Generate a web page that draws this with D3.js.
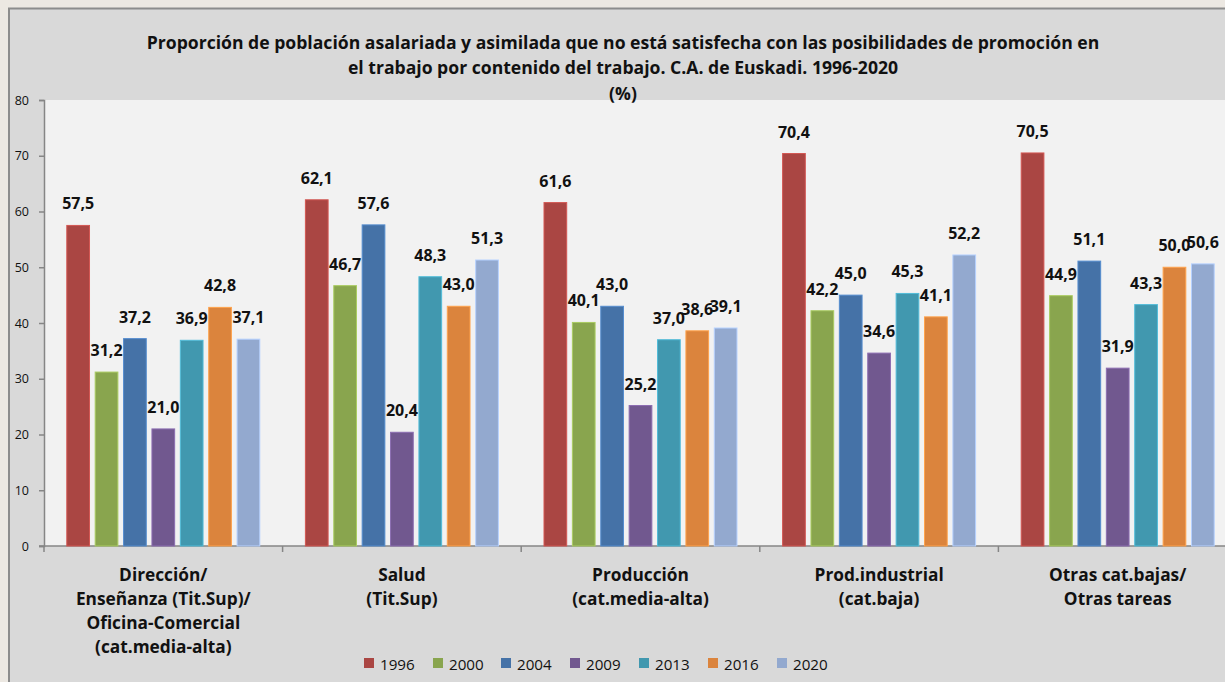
<!DOCTYPE html>
<html><head><meta charset="utf-8">
<script src="https://cdn.jsdelivr.net/npm/d3@7"></script>
<style>
body{margin:0;padding:0;background:#ece8e2;}
svg{display:block;font-family:"Open Sans", sans-serif;}
</style></head>
<body>
<svg id="chart" width="1225" height="682"></svg>
<script>
const categories = [
  ["Dirección/","Enseñanza (Tit.Sup)/","Oficina-Comercial","(cat.media-alta)"],
  ["Salud","(Tit.Sup)"],
  ["Producción","(cat.media-alta)"],
  ["Prod.industrial","(cat.baja)"],
  ["Otras cat.bajas/","Otras tareas"]
];
const years = ["1996","2000","2004","2009","2013","2016","2020"];
const values1996 = [57.5, 62.1, 61.6, 70.4, 70.5];
const values2000 = [31.2, 46.7, 40.1, 42.2, 44.9];
const values2004 = [37.2, 57.6, 43.0, 45.0, 51.1];
const values2009 = [21.0, 20.4, 25.2, 34.6, 31.9];
const values2013 = [36.9, 48.3, 37.0, 45.3, 43.3];
const values2016 = [42.8, 43.0, 38.6, 41.1, 50.0];
const values2020 = [37.1, 51.3, 39.1, 52.2, 50.6];
const yTicks = [0,10,20,30,40,50,60,70,80];
const titleLines = [
  "Proporción de población asalariada y asimilada que no está satisfecha con las posibilidades de promoción en",
  "el trabajo por contenido del trabajo. C.A. de Euskadi. 1996-2020",
  "(%)"
];
const colors = ["#AA4643","#89A54E","#4572A7","#71588F","#4198AF","#DB843D","#93A9CF"];
const series = [values1996,values2000,values2004,values2009,values2013,values2016,values2020];

const svg = d3.select("#chart");
// chart area
svg.append("rect").attr("x",9).attr("y",8.5).attr("width",1230).attr("height",690)
  .attr("fill","#d9d9d9").attr("stroke","#8c8c8c").attr("stroke-width",2);

const pLeft = 44, pRight = 1237, pTop = 100, pBottom = 546;
svg.append("rect").attr("x",pLeft).attr("y",pTop).attr("width",pRight-pLeft).attr("height",pBottom-pTop).attr("fill","#f2f2f2");

const x0 = d3.scaleBand().domain(d3.range(categories.length)).range([pLeft,pRight]).paddingInner(0).paddingOuter(0);
const x1 = d3.scaleBand().domain(years).range([0,193]).paddingInner(0.2);
const y = d3.scaleLinear().domain([0,80]).range([pBottom,pTop]);
const groupOffset = (x0.bandwidth()-193)/2;

// title
svg.append("g").selectAll("text").data(titleLines).join("text")
  .attr("x",623).attr("y",(d,i)=>48.5+i*25.5).attr("text-anchor","middle")
  .attr("font-weight","bold").attr("font-size",17.6).attr("fill","#111").text(d=>d);

// y axis
const yAxis = svg.append("g").attr("transform",`translate(${pLeft},0)`)
  .call(d3.axisLeft(y).tickValues(yTicks).tickSize(5).tickPadding(10).tickFormat(d3.format("d")));
yAxis.select(".domain").attr("stroke","#868686").attr("stroke-width",1.5);
yAxis.selectAll(".tick line").attr("stroke","#868686").attr("stroke-width",1.5);
yAxis.selectAll("text").attr("font-size",12.5).attr("fill","#111").attr("font-family","'Open Sans', sans-serif");

// x axis
const xAxis = svg.append("g").attr("transform",`translate(0,${pBottom})`);
xAxis.append("line").attr("x1",pLeft-5).attr("x2",pRight).attr("y1",0).attr("y2",0).attr("stroke","#868686").attr("stroke-width",1.5);
xAxis.selectAll("line.t").data(d3.range(categories.length+1)).join("line").attr("class","t")
  .attr("x1",d=>pLeft+d*x0.bandwidth()).attr("x2",d=>pLeft+d*x0.bandwidth()).attr("y1",0).attr("y2",6)
  .attr("stroke","#868686").attr("stroke-width",1.5);

// bars
const groups = svg.append("g").selectAll("g").data(categories).join("g")
  .attr("transform",(d,i)=>`translate(${x0(i)+groupOffset},0)`);
groups.each(function(c,ci){
  const g = d3.select(this);
  years.forEach((yr,si)=>{
    const v = series[si][ci];
    g.append("rect").attr("x",x1(yr)).attr("y",y(v)).attr("width",x1.bandwidth()).attr("height",y(0)-y(v))
      .attr("fill",colors[si]).attr("stroke",d3.color(colors[si]).brighter(0.6)).attr("stroke-width",1);
  });
  years.forEach((yr,si)=>{
    const v = series[si][ci];
    g.append("text").attr("x",x1(yr)+x1.bandwidth()/2).attr("y",y(v)-16).attr("text-anchor","middle")
      .attr("font-weight","bold").attr("font-size",16).attr("fill","#111")
      .text(d3.format(".1f")(v).replace(".",","));
  });
  // category label
  g.append("g").selectAll("text").data(c).join("text")
    .attr("x",193/2).attr("y",(d,i)=>581+i*24).attr("text-anchor","middle")
    .attr("font-weight","bold").attr("font-size",17.3).attr("fill","#111").text(d=>d);
});

// legend
const legend = svg.append("g");
const lx = [364,433,501,570,639,708,777];
years.forEach((yr,i)=>{
  legend.append("rect").attr("x",lx[i]).attr("y",658).attr("width",10).attr("height",10).attr("fill",colors[i]);
  legend.append("text").attr("x",lx[i]+16).attr("y",669.5).attr("font-size",15.2).attr("fill","#111").text(yr);
});
</script>
</body></html>
